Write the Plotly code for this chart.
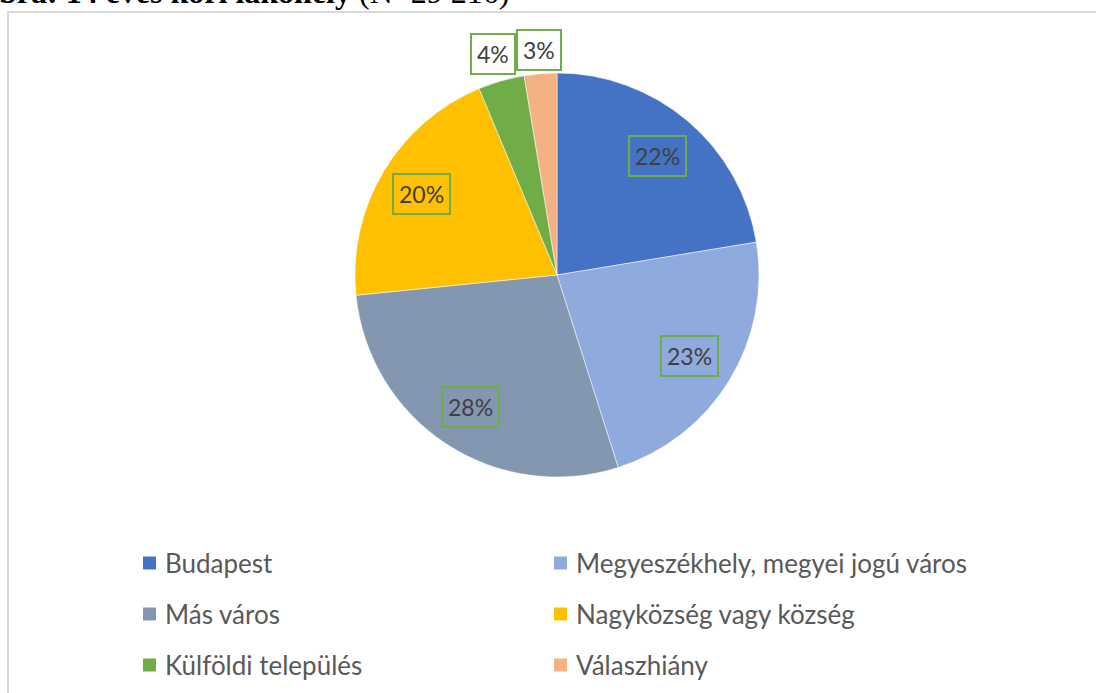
import math
import plotly.graph_objects as go

labels = ["Budapest", "Megyeszékhely, megyei jogú város", "Más város",
          "Nagyközség vagy község", "Külföldi település", "Válaszhiány"]
values = [22.4, 22.7, 28.3, 20.3, 3.7, 2.6]
colors = ["#4472C4", "#8FAADC", "#8497B0", "#FFC000", "#70AD47", "#F4B183"]
label_radius = [0.77, 0.77, 0.78, 0.78, 1.14, 1.12]

W, H = 1096, 693
CX, CY, R = 557, 275, 202  # pie centre / radius in px

fig = go.Figure()
fig.add_trace(go.Pie(
    labels=labels, values=values, sort=False, direction="clockwise", rotation=0,
    marker=dict(colors=colors, line=dict(color="white", width=0.5)),
    textinfo="none", hoverinfo="label+percent", showlegend=False,
    domain=dict(x=[(CX - R) / W, (CX + R) / W], y=[1 - (CY + R) / H, 1 - (CY - R) / H]),
))

total = sum(values)
annotations = []
cum = 0.0
for v, rr in zip(values, label_radius):
    mid = (cum + v / 2) / total * 2 * math.pi
    cum += v
    px = CX + rr * R * math.sin(mid)
    py = CY - rr * R * math.cos(mid)
    annotations.append(dict(
        x=px / W, y=1 - py / H, xref="paper", yref="paper", showarrow=False,
        xanchor="center", yanchor="middle",
        text=f"{round(v / total * 100)}%",
        font=dict(family="Lato", size=23, color="#404040"),
        bordercolor="#70AD47", borderwidth=2, borderpad=5,
    ))

# legend (two columns, three rows)
col_x = [143, 554]
row_y = [563, 614, 665]
shapes = []
for i, (lab, col) in enumerate(zip(labels, colors)):
    mx = col_x[i % 2]
    my = row_y[i // 2]
    shapes.append(dict(type="rect", xref="paper", yref="paper",
                       x0=mx / W, x1=(mx + 13) / W, y0=1 - (my + 6.5) / H, y1=1 - (my - 6.5) / H,
                       fillcolor=col, line=dict(width=0)))
    annotations.append(dict(
        x=(mx + 20) / W, y=1 - my / H, xref="paper", yref="paper", showarrow=False,
        xanchor="left", yanchor="middle", text=lab,
        font=dict(family="Lato", size=26, color="#595959"),
    ))

# chart frame
shapes.append(dict(type="rect", xref="paper", yref="paper",
                   x0=8 / W, x1=1.1, y0=-0.1, y1=1 - 12 / H,
                   line=dict(color="#D9D9D9", width=2), fillcolor="rgba(0,0,0,0)"))

# clipped caption above the chart
annotations.append(dict(
    x=-3 / W, y=1 - (-8) / H, xref="paper", yref="paper", showarrow=False,
    xanchor="left", yanchor="middle",
    text="<b>bra: 14 éves kori lakóhely</b> (N=29 216)",
    font=dict(family="Liberation Serif", size=32, color="#000000"),
))

fig.update_layout(
    width=W, height=H, margin=dict(l=0, r=0, t=0, b=0),
    paper_bgcolor="white", plot_bgcolor="white",
    shapes=shapes, annotations=annotations,
)
fig.write_html("out.html", config={"displayModeBar": False},
               post_script="document.body.style.margin='0';document.body.style.overflow='hidden';")
